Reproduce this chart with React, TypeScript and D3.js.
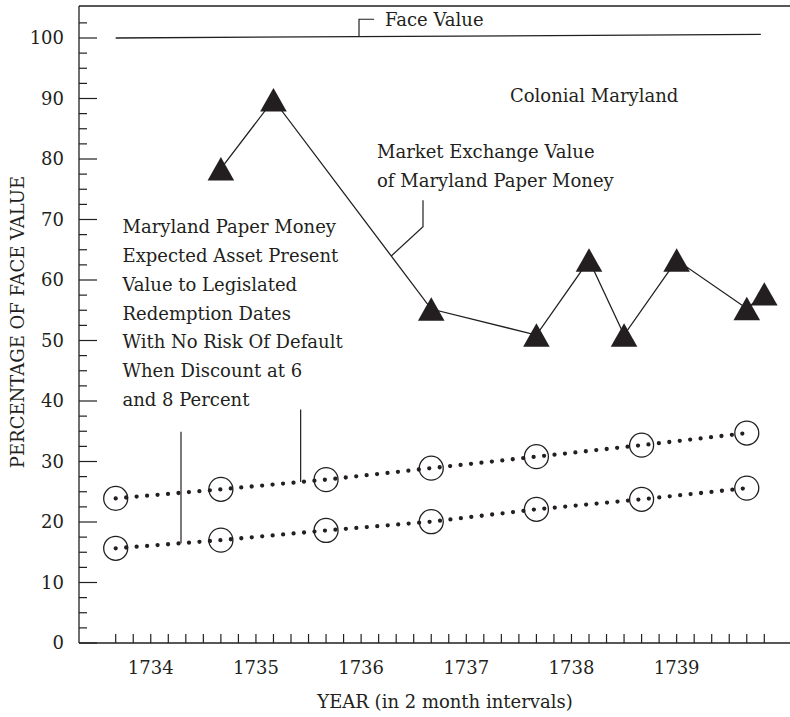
import React from "react";
import * as d3 from "d3";

const W = 790;
const H = 717;
const FONT = "'DejaVu Serif', serif";
const INK = "#231f20";

// ---- data ----
const yMajorTicks = [0, 10, 20, 30, 40, 50, 60, 70, 80, 90, 100];
const yearLabels = ["1734", "1735", "1736", "1737", "1738", "1739"];
const yearLabelPeriods = [2, 8, 14, 20, 26, 32];
const periodCount = 38; // 2-month intervals

const marketPeriods = [6, 9, 18, 24, 27, 29, 32, 36, 37];
const marketValues = [78.4, 89.8, 55.2, 50.9, 63.3, 50.9, 63.3, 55.3, 57.7];

const discountPeriods = [0, 6, 12, 18, 24, 30, 36];
const discount6 = [23.9, 25.4, 27.0, 28.9, 30.8, 32.7, 34.7];
const discount8 = [15.65, 17.0, 18.6, 20.05, 22.1, 23.75, 25.6];

const facePeriods = [0, 36.8];
const faceValues = [100, 100.6];

const leftNoteLines = [
  "Maryland Paper Money",
  "Expected Asset Present",
  "Value to Legislated",
  "Redemption Dates",
  "With No Risk Of Default",
  "When Discount at 6",
  "and 8 Percent",
];
const marketNoteLines = ["Market Exchange Value", "of Maryland Paper Money"];

export default function App() {
  const x = d3.scaleLinear().domain([0, periodCount - 1]).range([115.7, 764.3]);
  const y = d3.scaleLinear().domain([0, 100]).range([643, 38]);
  const axisX = 79;
  const axisTop = 6;
  const axisBottom = y(0);

  const interp = (ps: number[], vs: number[]) =>
    d3.scaleLinear().domain(ps).range(vs);

  const line = d3
    .line<[number, number]>()
    .x((d) => x(d[0]))
    .y((d) => y(d[1]));

  const marketPts: [number, number][] = marketPeriods.map((p, i) => [p, marketValues[i]]);
  const d6Pts: [number, number][] = discountPeriods.map((p, i) => [p, discount6[i]]);
  const d8Pts: [number, number][] = discountPeriods.map((p, i) => [p, discount8[i]]);
  const facePts: [number, number][] = facePeriods.map((p, i) => [p, faceValues[i]]);

  const yMinor = d3.range(0, 103, 2.5).filter((v) => v % 10 !== 0);
  const xTicks = d3.range(periodCount);

  // annotation anchors (data units)
  const faceBracketP = 13.88;
  const faceBracketEndP = 14.74;
  const faceInterp = interp(facePeriods, faceValues);

  const mkInterp = interp(marketPeriods, marketValues);
  const mkLeaderP = 15.72;
  const mkElbow: [number, number] = [17.53, 68.8];
  const mkTop: [number, number] = [17.53, 73.2];

  const leader8P = 3.725;
  const leader8Top = 34.9;
  const leader6P = 10.55;
  const leader6Top = 38.6;
  const d6Interp = interp(discountPeriods, discount6);
  const d8Interp = interp(discountPeriods, discount8);

  const tri = (cx: number, cy: number) => {
    const hw = 13.3;
    const hh = 11.7;
    return `M${cx},${cy - hh}L${cx + hw},${cy + hh}L${cx - hw},${cy + hh}Z`;
  };

  return (
    <svg
      width={W}
      height={H}
      style={{ position: "absolute", left: 0, top: 0, background: "#fff" }}
      fontFamily={FONT}
    >
      <rect width={W} height={H} fill="#fff" />
      {/* frame */}
      <line x1={axisX} x2={W} y1={axisTop} y2={axisTop} stroke={INK} strokeWidth={1.3} />
      <line x1={axisX} x2={axisX} y1={axisTop} y2={axisBottom} stroke={INK} strokeWidth={1.3} />
      <line x1={axisX} x2={W} y1={axisBottom} y2={axisBottom} stroke={INK} strokeWidth={1.3} />

      {/* y ticks */}
      {yMajorTicks.map((v) => (
        <g key={"ym" + v}>
          <line x1={axisX} x2={axisX + 18} y1={y(v)} y2={y(v)} stroke={INK} strokeWidth={1.2} />
          <text x={64} y={y(v)} dy="0.36em" textAnchor="end" fontSize={18} fill={INK}>
            {v}
          </text>
        </g>
      ))}
      {yMinor.map((v) => (
        <line key={"yn" + v} x1={axisX} x2={axisX + 8} y1={y(v)} y2={y(v)} stroke={INK} strokeWidth={1.2} />
      ))}

      {/* x ticks */}
      {xTicks.map((p) => (
        <line key={"xt" + p} x1={x(p)} x2={x(p)} y1={axisBottom} y2={axisBottom - 9} stroke={INK} strokeWidth={1.2} />
      ))}
      {yearLabels.map((lab, i) => (
        <text key={lab} x={x(yearLabelPeriods[i])} y={674} textAnchor="middle" fontSize={18} fill={INK}>
          {lab}
        </text>
      ))}

      {/* axis titles */}
      <text x={445} y={708} textAnchor="middle" fontSize={18} fill={INK}>
        YEAR (in 2 month intervals)
      </text>
      <text
        transform={`translate(24,${322}) rotate(-90)`}
        textAnchor="middle"
        fontSize={18}
        fill={INK}
      >
        PERCENTAGE OF FACE VALUE
      </text>

      {/* face value line */}
      <path d={line(facePts) || ""} fill="none" stroke={INK} strokeWidth={1.3} />
      <path
        d={`M${x(faceBracketP)},${y(faceInterp(faceBracketP))}V${y(103.1)}H${x(faceBracketEndP)}`}
        fill="none"
        stroke={INK}
        strokeWidth={1.2}
      />
      <text x={385} y={25.5} fontSize={18} fill={INK}>
        Face Value
      </text>

      <text x={510} y={102} fontSize={18} fill={INK}>
        Colonial Maryland
      </text>

      {/* market line */}
      <path d={line(marketPts) || ""} fill="none" stroke={INK} strokeWidth={1.3} />
      {marketPts.map((d, i) => (
        <path key={"tr" + i} d={tri(x(d[0]), y(d[1]))} fill={INK} />
      ))}
      <path
        d={`M${x(mkTop[0])},${y(mkTop[1])}L${x(mkElbow[0])},${y(mkElbow[1])}L${x(mkLeaderP)},${y(mkInterp(mkLeaderP))}`}
        fill="none"
        stroke={INK}
        strokeWidth={1.2}
      />
      {marketNoteLines.map((t, i) => (
        <text key={t} x={377} y={158 + i * 28.5} fontSize={18} fill={INK}>
          {t}
        </text>
      ))}

      {/* discount lines */}
      {[d6Pts, d8Pts].map((pts, k) => (
        <g key={"ds" + k}>
          <path
            d={line(pts) || ""}
            fill="none"
            stroke={INK}
            strokeWidth={4.3}
            strokeLinecap="round"
            strokeDasharray="0 10.5"
          />
          {pts.map((d, i) => (
            <circle key={i} cx={x(d[0])} cy={y(d[1])} r={12} fill="none" stroke={INK} strokeWidth={1.3} />
          ))}
        </g>
      ))}

      {/* left leaders */}
      <line
        x1={x(leader8P)}
        x2={x(leader8P)}
        y1={y(leader8Top)}
        y2={y(d8Interp(leader8P))}
        stroke={INK}
        strokeWidth={1.2}
      />
      <line
        x1={x(leader6P)}
        x2={x(leader6P)}
        y1={y(leader6Top)}
        y2={y(d6Interp(leader6P))}
        stroke={INK}
        strokeWidth={1.2}
      />
      {leftNoteLines.map((t, i) => (
        <text key={t} x={122.5} y={233.2 + i * 28.8} fontSize={18} fill={INK}>
          {t}
        </text>
      ))}
    </svg>
  );
}
